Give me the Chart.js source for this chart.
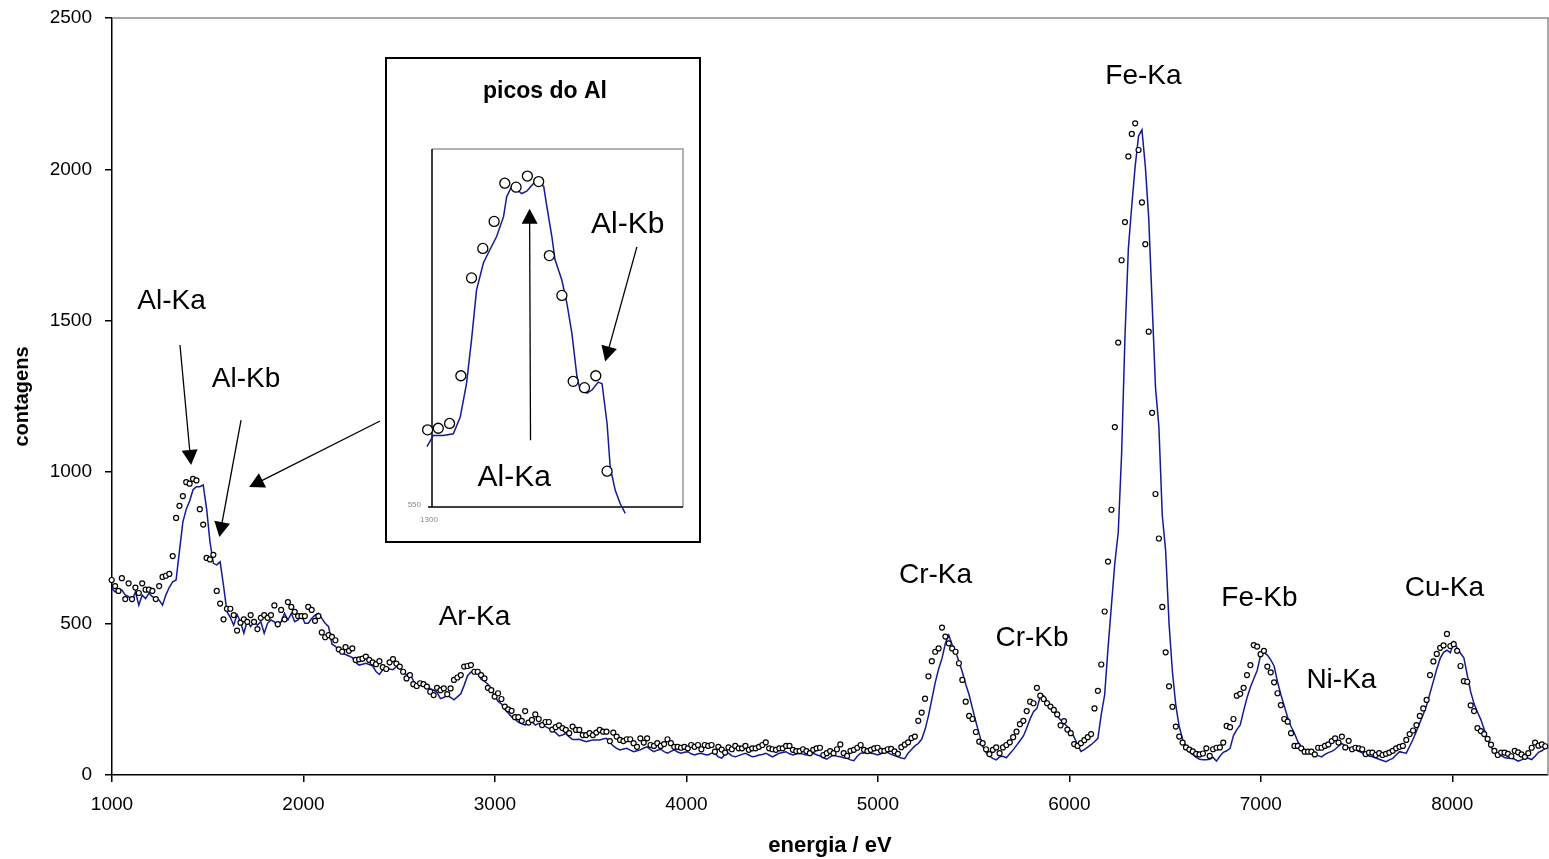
<!DOCTYPE html>
<html lang="pt">
<head>
<meta charset="utf-8">
<title>contagens / energia</title>
<script src="https://cdn.jsdelivr.net/npm/chart.js@4.4.0/dist/chart.umd.min.js"></script>
<style>
  html, body { margin: 0; background: #fff; }
  #wrap { position: relative; width: 1549px; height: 859px; }
  #main { position: absolute; left: 0; top: 0; }
  #inset { position: absolute; left: 385px; top: 57px; }
</style>
</head>
<body>
<div id="wrap">
  <canvas id="main" width="1549" height="859"></canvas>
  <canvas id="inset" width="316" height="486"></canvas>
</div>
<script>
// calibração do detector: energia do primeiro canal e largura do canal (eV)
const E0 = 963
const dE = 17.7

// contagens medidas, um valor por canal
const contagens = [
  633,624,644,624,608,650,581,633,581,619,
  601,633,612,612,608,581,624,654,658,664,
  723,849,889,921,967,962,978,973,878,827,
  717,712,727,608,566,514,549,549,528,477,
  503,514,506,528,506,482,519,528,519,528,
  560,498,545,514,571,555,539,525,525,525,
  555,545,509,525,471,455,462,456,445,415,
  407,422,410,418,380,382,384,391,380,372,
  366,376,356,350,372,383,368,358,341,319,
  330,300,294,303,300,292,275,264,288,280,
  286,267,286,314,322,330,358,360,363,341,
  341,330,319,288,280,259,270,251,226,217,
  212,191,191,179,211,173,182,200,185,165,
  175,175,150,158,164,155,149,138,160,149,
  149,132,132,138,132,140,149,143,143,112,
  140,127,116,112,118,118,105,93,121,107,
  121,99,96,105,96,102,118,105,93,93,
  90,93,88,99,93,99,85,99,96,99,
  77,93,84,74,91,85,96,88,88,96,
  83,88,88,93,99,108,88,85,83,88,
  88,96,96,83,79,79,85,79,72,83,
  88,90,66,72,79,72,85,101,72,63,
  80,83,90,99,83,79,83,88,90,80,
  80,85,86,78,70,92,100,108,122,127,
  179,206,252,326,376,407,418,487,457,435,
  418,407,369,314,242,195,185,142,110,105,
  85,69,83,91,72,91,99,108,125,143,
  168,179,211,242,237,288,262,251,237,226,
  215,200,164,178,150,138,102,96,105,115,
  125,135,220,278,365,540,705,876,1149,1428,
  1700,1826,2043,2117,2152,2064,1891,1753,1464,1196,
  928,781,555,405,293,225,160,127,107,91,
  84,78,70,68,71,88,63,85,90,91,
  107,162,158,185,262,268,288,330,363,429,
  424,399,410,358,339,306,270,231,185,176,
  138,96,96,88,77,77,77,68,90,90,
  96,101,112,121,107,127,91,113,85,90,
  88,85,69,74,74,66,72,66,70,74,
  80,88,93,96,116,135,147,165,195,220,
  248,330,375,400,420,428,466,426,432,410,
  360,310,308,230,211,155,145,135,119,100,
  80,66,74,74,70,62,80,75,68,60,
  72,90,107,97,101,95
]

// curva calculada, mesmos canais
const ajuste = [
  622,611,617,605,608,611,595,589,575,605,
  561,594,583,600,589,583,578,561,595,620,
  638,644,740,835,878,905,942,952,952,958,
  880,770,699,694,704,625,540,520,495,530,
  506,468,510,490,506,495,506,468,501,512,
  506,490,506,534,512,534,506,512,528,501,
  501,517,528,534,517,501,490,432,425,412,
  402,398,393,388,372,363,366,369,365,360,
  342,332,348,356,350,348,358,360,338,331,
  336,312,294,302,306,294,285,280,273,252,
  256,264,256,248,258,268,296,328,340,340,
  336,316,310,300,282,262,243,235,216,205,
  192,184,175,169,165,178,176,165,171,168,
  160,154,148,140,129,132,137,126,117,117,
  118,114,110,113,116,116,116,119,121,108,
  96,88,83,86,88,82,77,80,83,89,
  93,84,77,82,85,77,72,78,83,76,
  72,75,77,70,66,70,72,68,66,72,
  72,60,56,68,72,63,60,64,68,72,
  66,60,62,66,68,72,66,60,66,72,
  74,77,70,66,69,72,69,66,69,72,
  67,63,57,52,60,66,62,60,57,55,
  50,47,62,72,73,74,72,70,66,70,
  75,74,68,64,60,56,54,72,84,96,
  104,118,150,195,250,305,350,385,435,462,
  430,408,375,340,300,265,220,176,135,95,
  75,62,55,50,60,62,57,70,83,98,
  113,128,155,185,209,220,259,262,245,224,
  208,195,182,170,160,145,125,100,78,84,
  92,100,110,121,200,265,420,560,700,800,
  1060,1450,1740,1880,2010,2110,2131,2010,1840,1560,
  1280,1150,858,740,500,340,230,160,118,95,
  76,68,58,52,50,50,52,58,46,62,
  75,80,88,130,150,165,212,255,290,318,
  345,395,405,396,380,360,308,265,228,190,
  160,138,110,92,82,75,73,70,64,60,
  68,74,78,85,95,104,96,90,86,83,
  78,73,68,63,60,56,52,48,44,50,
  55,66,77,74,72,95,118,145,173,200,
  230,270,310,350,385,405,412,404,440,420,
  402,387,330,275,235,208,183,150,118,92,
  78,70,64,58,55,57,52,46,50,57,
  55,51,62,75,80,88
]

// detalhe dos picos do Al
const alEnergia = [1293,1310,1328,1346,1363,1381,1399,1416,1434,1452,1470,1487,1507,1525,1543,1561,1579]
const alContagens = [647,649,655,715,838,875,909,957,952,966,959,866,816,708,700,715,595]
const alAjusteE = [1282,1292,1302,1318,1334,1345,1355,1363,1371,1382,1392,1403,1414,1419,1427,1435,1443,1451,1462,1470,
  1478,1483,1491,1496,1507,1515,1523,1531,1536,1547,1555,1565,1571,1579,1584,1592,1600,1608]
const alAjusteC = [600,626,640,640,642,663,705,760,823,857,873,890,915,940,953,949,944,947,957,959,
  953,928,890,861,835,806,768,714,697,693,697,707,705,655,600,571,554,542]

const xTicks = [1000, 2000, 3000, 4000, 5000, 6000, 7000, 8000]
const yTicks = [0, 500, 1000, 1500, 2000, 2500]

// rótulos dos picos (energia, contagens)
const picos = [
  { t: 'Al-Ka', x: 1311, y: 1564 },
  { t: 'Al-Kb', x: 1700, y: 1308 },
  { t: 'Ar-Ka', x: 2893, y: 522 },
  { t: 'Cr-Ka', x: 5301, y: 661 },
  { t: 'Cr-Kb', x: 5805, y: 450 },
  { t: 'Fe-Ka', x: 6387, y: 2309 },
  { t: 'Fe-Kb', x: 6993, y: 585 },
  { t: 'Ni-Ka', x: 7421, y: 314 },
  { t: 'Cu-Ka', x: 7959, y: 618 }
]
const setas = [
  { de: [1355, 1420], para: [1413, 1024] },
  { de: [1674, 1172], para: [1561, 786] },
  { de: [2400, 1169], para: [1716, 951] }
]
const alRotulos = [
  { t: 'Al-Kb', x: 1612, y: 905 },
  { t: 'Al-Ka', x: 1431, y: 587 }
]
const alSetas = [
  { de: [1457, 634], para: [1455.5, 925] },
  { de: [1626.5, 877], para: [1576, 733] }
]

const FONT = '"Liberation Sans", Arial, Helvetica, sans-serif'
const AZUL = '#141a96'

const canais = vals => vals.map((v, i) => ({ x: E0 + i * dE, y: v }))

// tamanho fixo dos eixos, sem folgas extras do layout
function fixaEixo(prop, valor) {
  return s => {
    s[prop] = valor
    s.paddingLeft = s.paddingRight = s.paddingTop = s.paddingBottom = 0
  }
}

function seta(ctx, x1, y1, x2, y2, len, half) {
  const a = Math.atan2(y2 - y1, x2 - x1)
  const c = Math.cos(a), s = Math.sin(a)
  ctx.beginPath()
  ctx.moveTo(x1, y1)
  ctx.lineTo(x2 - c * len * 0.8, y2 - s * len * 0.8)
  ctx.stroke()
  ctx.beginPath()
  ctx.moveTo(x2, y2)
  ctx.lineTo(x2 - len * c + half * s, y2 - len * s - half * c)
  ctx.lineTo(x2 - len * c - half * s, y2 - len * s + half * c)
  ctx.closePath()
  ctx.fill()
}

function desenhaNotas(chart, rotulos, listaSetas, tamanho) {
  const { ctx, scales: { x, y } } = chart
  ctx.save()
  ctx.fillStyle = '#000'
  ctx.strokeStyle = '#000'
  ctx.lineWidth = 1.3
  ctx.font = tamanho + 'px ' + FONT
  ctx.textAlign = 'center'
  ctx.textBaseline = 'middle'
  rotulos.forEach(r => ctx.fillText(r.t, x.getPixelForValue(r.x), y.getPixelForValue(r.y)))
  listaSetas.forEach(s => seta(ctx,
    x.getPixelForValue(s.de[0]), y.getPixelForValue(s.de[1]),
    x.getPixelForValue(s.para[0]), y.getPixelForValue(s.para[1]), 15, 8))
  ctx.restore()
}

const moldura = {
  id: 'moldura',
  beforeDatasetsDraw(chart) {
    const { ctx, chartArea: a } = chart
    ctx.save()
    ctx.strokeStyle = '#8c8c8c'
    ctx.lineWidth = 1.5
    ctx.beginPath()
    ctx.moveTo(a.left, a.top)
    ctx.lineTo(a.right, a.top)
    ctx.lineTo(a.right, a.bottom)
    ctx.stroke()
    ctx.restore()
  },
  afterDraw(chart) {
    desenhaNotas(chart, picos, setas, 28)
  }
}

new Chart(document.getElementById('main'), {
  type: 'scatter',
  data: {
    datasets: [
      {
        label: 'medido',
        data: canais(contagens),
        showLine: false,
        pointRadius: 2.5,
        pointBorderWidth: 1.2,
        pointBorderColor: '#000',
        pointBackgroundColor: '#fff',
        clip: false
      },
      {
        label: 'ajuste',
        data: canais(ajuste),
        showLine: true,
        borderColor: AZUL,
        borderWidth: 1.5,
        pointRadius: 0,
        clip: false
      }
    ]
  },
  options: {
    responsive: false,
    animation: false,
    devicePixelRatio: 1,
    layout: { autoPadding: false, padding: { top: 18, right: 1, left: 0, bottom: 0 } },
    plugins: { legend: { display: false }, tooltip: { enabled: false } },
    scales: {
      x: {
        type: 'linear',
        min: 1000,
        max: 8500,
        afterFit: fixaEixo('height', 84),
        afterBuildTicks: s => { s.ticks = xTicks.map(v => ({ value: v })) },
        ticks: {
          padding: 11,
          color: '#000',
          maxRotation: 0,
          font: { family: FONT, size: 19 },
          callback: v => String(v)
        },
        grid: { drawOnChartArea: false, tickLength: 7, color: '#000', lineWidth: 1.5 },
        border: { color: '#000', width: 1.5 },
        title: {
          display: true,
          text: 'energia / eV',
          color: '#000',
          font: { family: FONT, size: 22, weight: 'bold' },
          padding: { top: 1, bottom: 0 }
        }
      },
      y: {
        min: 0,
        max: 2500,
        afterFit: fixaEixo('width', 112),
        afterBuildTicks: s => { s.ticks = yTicks.map(v => ({ value: v })) },
        ticks: {
          padding: 13,
          color: '#000',
          font: { family: FONT, size: 19 },
          callback: v => String(v)
        },
        grid: { drawOnChartArea: false, tickLength: 7, color: '#000', lineWidth: 1.5 },
        border: { color: '#000', width: 1.5 },
        title: {
          display: true,
          text: 'contagens',
          color: '#000',
          font: { family: FONT, size: 20, weight: 'bold' },
          padding: { top: 10, bottom: 0 }
        }
      }
    }
  },
  plugins: [moldura]
})

// gráfico pequeno com os picos do Al
const quadro = {
  id: 'quadro',
  beforeDraw(chart) {
    const { ctx, width, height } = chart
    ctx.save()
    ctx.fillStyle = '#fff'
    ctx.fillRect(0, 0, width, height)
    ctx.strokeStyle = '#000'
    ctx.lineWidth = 2
    ctx.strokeRect(1, 1, width - 2, height - 2)
    ctx.fillStyle = '#000'
    ctx.font = 'bold 23px ' + FONT
    ctx.textAlign = 'center'
    ctx.textBaseline = 'middle'
    ctx.fillText('picos do Al', width / 2 + 2, 35)
    ctx.restore()
  },
  beforeDatasetsDraw(chart) {
    const { ctx, chartArea: a } = chart
    ctx.save()
    ctx.lineWidth = 1.5
    ctx.strokeStyle = '#999'
    ctx.beginPath()
    ctx.moveTo(a.left, a.top)
    ctx.lineTo(a.right, a.top)
    ctx.lineTo(a.right, a.bottom)
    ctx.stroke()
    ctx.strokeStyle = '#000'
    ctx.beginPath()
    ctx.moveTo(a.left, a.top)
    ctx.lineTo(a.left, a.bottom)
    ctx.lineTo(a.right, a.bottom)
    ctx.moveTo(a.left - 4, a.bottom)
    ctx.lineTo(a.left, a.bottom)
    ctx.stroke()
    ctx.fillStyle = '#888'
    ctx.font = '8px ' + FONT
    ctx.textAlign = 'right'
    ctx.textBaseline = 'middle'
    ctx.fillText(String(chart.scales.y.min), a.left - 11, a.bottom - 2)
    ctx.textAlign = 'center'
    ctx.fillText(String(chart.scales.x.min), a.left - 3, a.bottom + 13)
    ctx.restore()
  },
  afterDraw(chart) {
    desenhaNotas(chart, alRotulos, alSetas, 30)
  }
}

new Chart(document.getElementById('inset'), {
  type: 'scatter',
  data: {
    datasets: [
      {
        label: 'medido',
        data: alEnergia.map((x, i) => ({ x, y: alContagens[i] })),
        showLine: false,
        pointRadius: 5,
        pointBorderWidth: 1.3,
        pointBorderColor: '#000',
        pointBackgroundColor: '#fff',
        clip: false
      },
      {
        label: 'ajuste',
        data: alAjusteE.map((x, i) => ({ x, y: alAjusteC[i] })),
        showLine: true,
        borderColor: AZUL,
        borderWidth: 1.5,
        pointRadius: 0,
        clip: false
      }
    ]
  },
  options: {
    responsive: false,
    animation: false,
    devicePixelRatio: 1,
    layout: { autoPadding: false, padding: { left: 47, top: 92, right: 18, bottom: 36 } },
    plugins: { legend: { display: false }, tooltip: { enabled: false } },
    scales: {
      x: { type: 'linear', min: 1300, max: 1700, display: false },
      y: { min: 550, max: 1000, display: false }
    }
  },
  plugins: [quadro]
})
</script>
</body>
</html>
